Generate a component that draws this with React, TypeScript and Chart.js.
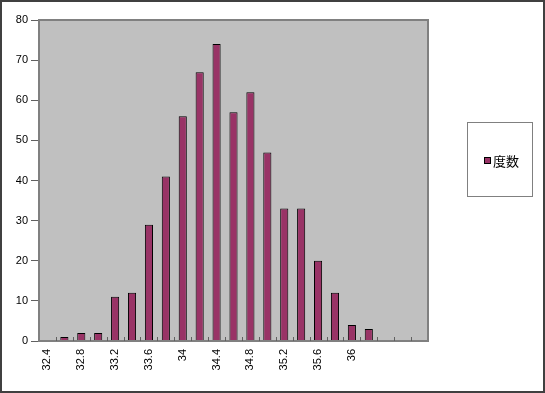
import React, { useEffect, useRef } from "react";
import { Chart, registerables } from "chart.js";

Chart.register(...registerables);

const categories: string[] = [
  "32.4", "32.6", "32.8", "33", "33.2", "33.4", "33.6", "33.8", "34", "34.2",
  "34.4", "34.6", "34.8", "35", "35.2", "35.4", "35.6", "35.8", "36", "36.2",
  "", "", "",
];
const frequencies: number[] = [
  0, 1, 2, 2, 11, 12, 29, 41, 56, 67,
  74, 57, 62, 47, 33, 33, 20, 12, 4, 3,
  0, 0, 0,
];
const seriesLabel = "度数";
const yMin = 0;
const yMax = 80;
const yStep = 10;

const BAR_COLOR = "#993366";
const PLOT_BG = "#C0C0C0";

const chartDecor = {
  id: "chartDecor",
  beforeDraw(chart: any) {
    const { ctx, chartArea } = chart;
    ctx.save();
    ctx.fillStyle = "#ffffff";
    ctx.fillRect(0, 0, chart.width, chart.height);
    ctx.fillStyle = PLOT_BG;
    ctx.fillRect(chartArea.left, chartArea.top, chartArea.right - chartArea.left, chartArea.bottom - chartArea.top);
    ctx.restore();
  },
  afterDatasetsDraw(chart: any) {
    const { ctx, chartArea } = chart;
    const xs = chart.scales.x;
    ctx.save();
    // plot border
    ctx.strokeStyle = "#808080";
    ctx.lineWidth = 2;
    ctx.strokeRect(chartArea.left, chartArea.top, chartArea.right - chartArea.left, chartArea.bottom - chartArea.top);
    // inner x tick marks at category boundaries
    ctx.strokeStyle = "#606060";
    ctx.lineWidth = 1;
    const n = categories.length;
    for (let i = 1; i < n; i++) {
      const x = Math.round((xs.getPixelForTick(i - 1) + xs.getPixelForTick(i)) / 2) + 0.5;
      ctx.beginPath();
      ctx.moveTo(x, chartArea.bottom - 4);
      ctx.lineTo(x, chartArea.bottom);
      ctx.stroke();
    }
    ctx.restore();
  },
  afterDraw(chart: any) {
    const { ctx } = chart;
    ctx.save();
    // legend box
    ctx.fillStyle = "#ffffff";
    ctx.fillRect(467, 122, 65, 74);
    ctx.strokeStyle = "#808080";
    ctx.lineWidth = 1;
    ctx.strokeRect(467.5, 122.5, 65, 74);
    // legend marker
    ctx.fillStyle = BAR_COLOR;
    ctx.fillRect(484, 157, 7, 7);
    ctx.strokeStyle = "#000000";
    ctx.strokeRect(484.5, 157.5, 6, 6);
    ctx.fillStyle = "#000000";
    ctx.font = "13px 'Noto Sans CJK JP'";
    ctx.textBaseline = "middle";
    ctx.textAlign = "left";
    ctx.fillText(chart.data.datasets[0].label, 493, 161);
    // outer border
    ctx.strokeStyle = "#404040";
    ctx.lineWidth = 2;
    ctx.strokeRect(1, 1, chart.width - 2, chart.height - 2);
    ctx.restore();
  },
};

export default function App() {
  const ref = useRef<HTMLCanvasElement | null>(null);
  useEffect(() => {
    if (!ref.current) return;
    const chart = new Chart(ref.current, {
      type: "bar",
      data: {
        labels: categories,
        datasets: [
          {
            label: seriesLabel,
            data: frequencies,
            backgroundColor: BAR_COLOR,
            borderColor: "#000000",
            borderWidth: 1,
            barPercentage: 0.48,
            categoryPercentage: 1,
          },
        ],
      },
      options: {
        responsive: false,
        animation: false,
        devicePixelRatio: 1,
        layout: { padding: { top: 20, right: 117, left: 0, bottom: 0 } },
        plugins: { legend: { display: false }, tooltip: { enabled: false } },
        scales: {
          x: {
            offset: true,
            grid: { display: false, drawTicks: false },
            border: { display: false },
            afterFit: (s: any) => { s.height = 52; },
            ticks: {
              autoSkip: false,
              minRotation: 90,
              maxRotation: 90,
              padding: 8,
              color: "#000000",
              font: { family: "'Liberation Sans', Arial", size: 11 },
              callback: (_v: any, i: number) => (i % 2 === 0 ? categories[i] : ""),
            },
          },
          y: {
            min: yMin,
            max: yMax,
            grid: { drawOnChartArea: false, tickLength: 8, color: "#606060" },
            border: { display: false },
            afterFit: (s: any) => { s.width = 39; },
            ticks: {
              stepSize: yStep,
              padding: 3,
              color: "#000000",
              font: { family: "'Liberation Sans', Arial", size: 11 },
            },
          },
        },
      },
      plugins: [chartDecor],
    });
    return () => chart.destroy();
  }, []);
  return (
    <div style={{ position: "fixed", left: 0, top: 0, width: 545, height: 393 }}>
      <canvas ref={ref} width={545} height={393} />
    </div>
  );
}
